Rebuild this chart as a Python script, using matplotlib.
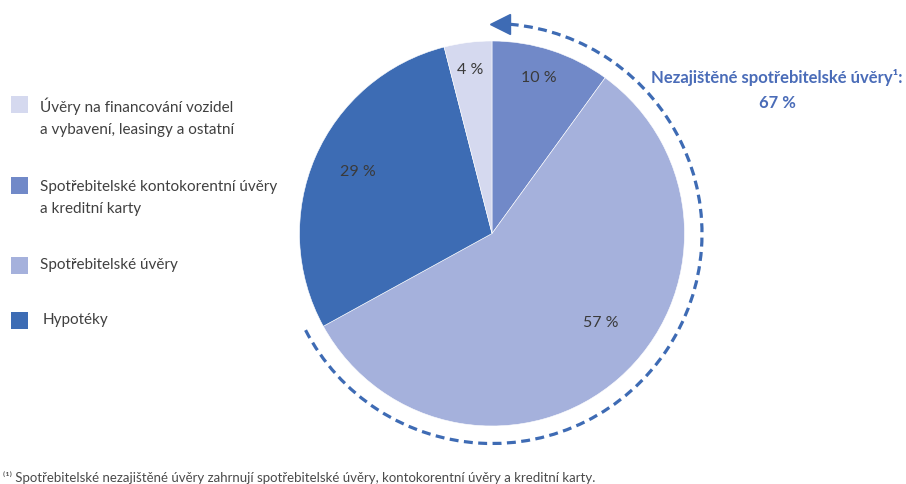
import matplotlib.pyplot as plt
from matplotlib.patches import Arc, Rectangle
import numpy as np

plt.rcParams['font.family'] = ['Lato', 'DejaVu Sans']

# pie slices, clockwise from 12 o'clock
shares = [10, 57, 29, 4]
slice_colors = ['#7189c8', '#a5b1dc', '#3d6cb4', '#d5d9ef']
slice_labels = ['10 %', '57 %', '29 %', '4 %']

# legend, top to bottom
legend_labels = ['Úvěry na financování vozidel\na vybavení, leasingy a ostatní',
                 'Spotřebitelské kontokorentní úvěry\na kreditní karty',
                 'Spotřebitelské úvěry',
                 'Hypotéky']
legend_colors = ['#d5d9ef', '#7189c8', '#a5b1dc', '#3d6cb4']

unsecured_title = 'Nezajištěné spotřebitelské úvěry¹:'
unsecured_total = shares[0] + shares[1]
footnote = ('⁽¹⁾ Spotřebitelské nezajištěné úvěry zahrnují spotřebitelské úvěry, '
            'kontokorentní úvěry a kreditní karty.')

W, H = 906, 485
fig = plt.figure(figsize=(W / 100, H / 100), dpi=100)
ax = fig.add_axes([0, 0, 1, 1])

cx, cy, r = 492, H - 234.5, 192.5
wedges, _ = ax.pie(shares, colors=slice_colors, startangle=90, counterclock=False,
                   center=(cx, cy), radius=r, frame=True,
                   wedgeprops=dict(linewidth=0.4, edgecolor='white'))
ax.set_xlim(0, W)
ax.set_ylim(0, H)
ax.set_aspect('equal')
ax.axis('off')

# label placement: radial fraction and angle nudge per slice
label_dist = [0.85, 0.73, 0.77, 0.86]
label_nudge = [1.5, 9.5, -1.5, 0.4]
for w, lab, d, n in zip(wedges, slice_labels, label_dist, label_nudge):
    ang = np.deg2rad((w.theta1 + w.theta2) / 2 + n)
    ax.text(cx + d * r * np.cos(ang), cy + d * r * np.sin(ang), lab,
            ha='center', va='center', fontsize=11.5, color='#3a3a3a')

# dashed arc around the unsecured part, arrow at the top
blue = '#3e6bb4'
arc_r = 210
end_ang = 90 - 360 * unsecured_total / 100 - 1.4
ax.add_patch(Arc((cx, cy), 2 * arc_r, 2 * arc_r, theta1=end_ang, theta2=85,
                 color=blue, lw=2.3, ls=(0, (2.8, 1.7))))
ax.plot(cx + 8, cy + arc_r, marker='<', ms=14, color=blue, mec=blue)

ax.text(777, H - 78, unsecured_title, ha='center', va='center',
        fontsize=12, fontweight='bold', color='#4a6cb8')
ax.text(777, H - 103, f'{unsecured_total} %', ha='center', va='center',
        fontsize=12, fontweight='bold', color='#4a6cb8')

# legend
rows_y = [117, 198, 265, 320]
for y, lab, col in zip(rows_y, legend_labels, legend_colors):
    first_line_y = y - 13.5 if '\n' in lab else y
    ax.add_patch(Rectangle((11, H - first_line_y - 10), 17, 17, color=col, lw=0))
    ax.text(40 if lab != 'Hypotéky' else 43, H - y, lab, ha='left', va='center',
            fontsize=11, color='#404040', linespacing=1.75)

ax.text(3, H - 478, footnote, ha='left', va='center', fontsize=9.5, color='#4a4a4a')

fig.savefig('out.png', dpi=100)
